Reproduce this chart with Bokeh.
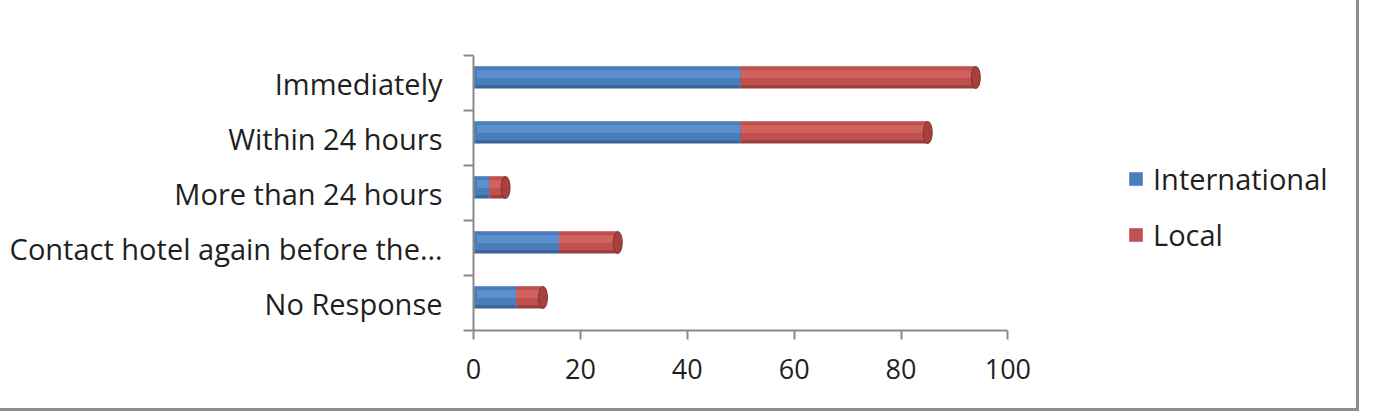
from bokeh.plotting import figure
from bokeh.models import (ColumnDataSource, FixedTicker, Range1d, Legend, LegendItem)
from bokeh.transform import dodge
from bokeh.embed import file_html
from bokeh.resources import INLINE

# ---- data ----
categories = ["Immediately", "Within 24 hours", "More than 24 hours",
              "Contact hotel again before the\u2026", "No Response"]
international = [50, 50, 3, 16, 8]
local = [44, 35, 3, 11, 5]
x_ticks = [0, 20, 40, 60, 80, 100]

n = len(categories)
ys = [n - i - 0.5 for i in range(n)]
totals = [a + b for a, b in zip(international, local)]
zeros = [0] * n

src = ColumnDataSource(dict(y=ys, intl=international, loc=local, tot=totals,
                            zero=zeros, cat=categories))

FONT = "Open Sans"
TXT = "#1f1f1f"
AX = "#8a8a8a"

p = figure(width=1359, height=411, output_backend="svg", toolbar_location=None,
           x_range=Range1d(0, 165.8), y_range=Range1d(0, n),
           min_border_left=473, min_border_right=0, min_border_top=55,
           min_border_bottom=81)
p.styles = {"border-right": "3px solid #8c8c8c", "border-bottom": "3px solid #8c8c8c"}
p.outline_line_color = None
p.grid.grid_line_color = None
p.background_fill_color = "white"
p.border_fill_color = "white"

BH = 0.4
off = 0.1
yc = dodge("y", off, range=p.y_range)

# cylinder-like bars: base + highlight bands
blue_base, blue_dark, blue_light = "#4a7ebb", "#3a6397", "#5d90d0"
red_base, red_dark, red_light = "#c0504d", "#983e3c", "#d0625f"

p.hbar(y=yc, left="zero", right="intl", height=BH, source=src,
       fill_color=blue_dark, line_color=None)
rb = p.hbar(y=dodge("y", off + 0.03, range=p.y_range), left="zero", right="intl",
            height=BH - 0.06, source=src, fill_color=blue_base, line_color=None)
p.hbar(y=dodge("y", off + 0.06, range=p.y_range), left="zero", right="intl",
       height=BH * 0.35, source=src, fill_color=blue_light, line_color=None)

p.hbar(y=yc, left="intl", right="tot", height=BH, source=src,
       fill_color=red_dark, line_color=None)
rr = p.hbar(y=dodge("y", off + 0.03, range=p.y_range), left="intl", right="tot",
            height=BH - 0.06, source=src, fill_color=red_base, line_color=None)
p.hbar(y=dodge("y", off + 0.06, range=p.y_range), left="intl", right="tot",
       height=BH * 0.35, source=src, fill_color=red_light, line_color=None)

# rounded start and end caps
p.ellipse(x="zero", y=yc, width=8, height=22, width_units="screen",
          height_units="screen", source=src, fill_color=blue_base, line_color=None)
p.ellipse(x="tot", y=yc, width=9, height=22, width_units="screen",
          height_units="screen", source=src, fill_color="#a8403d",
          line_color="#7e3230", line_width=1)

# ---- x axis ----
xa = p.xaxis[0]
xa.ticker = FixedTicker(ticks=x_ticks, minor_ticks=[])
xa.bounds = (0, 100)
xa.axis_line_color = AX
xa.axis_line_width = 2
xa.major_tick_line_color = AX
xa.major_tick_line_width = 2
xa.major_tick_out = 9
xa.major_tick_in = 0
xa.minor_tick_line_color = None
xa.major_label_text_font = FONT
xa.major_label_text_font_size = "27px"
xa.major_label_text_color = TXT
xa.major_label_standoff = 19

# ---- y axis ----
ya = p.yaxis[0]
ya.ticker = FixedTicker(ticks=ys, minor_ticks=list(range(n + 1)))
ya.major_label_overrides = {y: c for y, c in zip(ys, categories)}
ya.axis_line_color = AX
ya.axis_line_width = 2
ya.major_tick_line_color = None
ya.major_tick_out = 0
ya.major_tick_in = 0
ya.minor_tick_line_color = AX
ya.minor_tick_line_width = 2
ya.minor_tick_out = 10
ya.minor_tick_in = 0
ya.major_label_text_font = FONT
ya.major_label_text_font_size = "29px"
ya.major_label_text_color = TXT
ya.major_label_standoff = 21

# ---- legend ----
leg = Legend(items=[LegendItem(label="International", renderers=[rb]),
                    LegendItem(label="Local", renderers=[rr])],
             location=(654, 76), orientation="vertical")
leg.label_text_font = FONT
leg.label_text_font_size = "29px"
leg.label_text_color = TXT
leg.glyph_width = 17
leg.glyph_height = 17
leg.label_height = 34
leg.spacing = 17
leg.label_standoff = 9
leg.padding = 0
leg.margin = 0
leg.border_line_color = None
leg.background_fill_alpha = 0
p.add_layout(leg)

open("out.html", "w").write(file_html(p, INLINE))
